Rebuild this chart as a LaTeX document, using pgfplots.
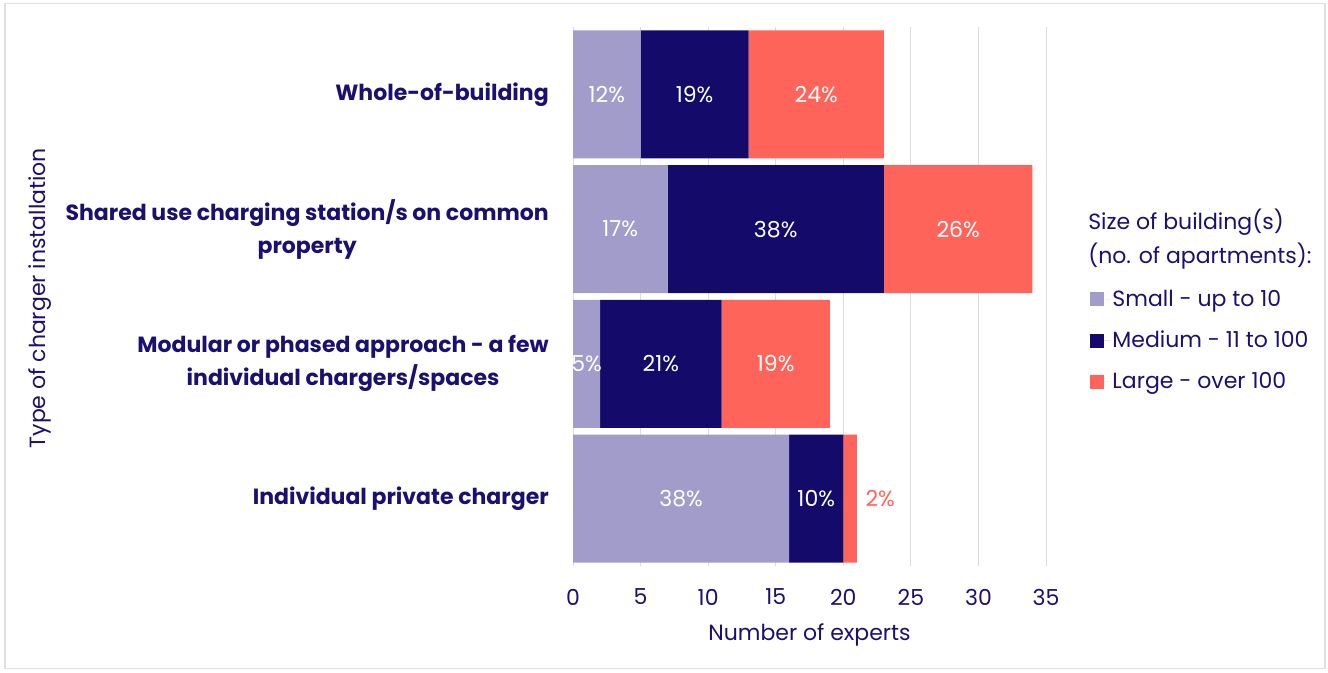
\documentclass[border=0pt]{standalone}
\usepackage{pgfplots}
\pgfplotsset{compat=1.18}
\usepackage{fontspec}
\setmainfont{Poppins}
\definecolor{navy}{HTML}{140A6A}
\definecolor{txt}{HTML}{1A1070}
\definecolor{smallc}{HTML}{A29CCA}
\definecolor{largec}{HTML}{FF645A}
\definecolor{gridc}{HTML}{DCDCDC}
\newcommand{\fs}{\fontsize{16.5}{24.75}\selectfont}
\tikzset{lab/.style={text=white, font=\fs}}
\pgfplotsset{sqleg/.style={legend image code/.code={\fill[##1] (0pt,-5.25pt) rectangle (10.5pt,5.25pt); \path (0pt,0pt) -- (15pt,0pt);}}}
\begin{document}
\begin{tikzpicture}
\path[use as bounding box] (0,0) rectangle (996pt,-504pt);
\draw[black!12, line width=1pt] (3.75pt,-2.5pt) rectangle (993.75pt,-501.5pt);
\begin{axis}[
  at={(429.75pt,-424.5pt)}, anchor=south west,
  scale only axis, width=354.75pt, height=404.25pt,
  xbar stacked, bar width=0.95,
  xmin=0, xmax=35, ymin=-0.5, ymax=3.5,
  xtick={0,5,...,35},
  ytick={0,1,2,3},
  yticklabels={Individual private charger, {Modular or phased approach - a few\\individual chargers/spaces}, {Shared use charging station/s on common\\property}, Whole-of-building},
  /pgf/number format/assume math mode=true,
  axis line style={draw=none},
  xmajorgrids, grid style={gridc, line width=0.75pt},
  major tick length=0pt,
  tick label style={font=\fs, text=txt},
  yticklabel style={align=center, font=\bfseries\fs, inner sep=0pt, xshift=-18pt},
  xticklabel style={anchor=north, inner sep=0pt, yshift=-17pt},
  xlabel={Number of experts}, ylabel={Type of charger installation},
  label style={font=\fs, text=txt},
  xlabel style={at={(axis description cs:0.5,-0.128)}, anchor=center},
  ylabel style={at={(axis description cs:-1.127,0.497)}, anchor=center},
  legend style={at={(1.092,0.517)}, anchor=north west, draw=none, fill=none, font=\fs, text=txt, row sep=13pt, inner sep=0pt},
  legend cell align=left,
]
\addplot[fill=smallc, draw=none, sqleg] coordinates {(16,0) (2,1) (7,2) (5,3)};
\addplot[fill=navy, draw=none, sqleg] coordinates {(4,0) (9,1) (16,2) (8,3)};
\addplot[fill=largec, draw=none, sqleg] coordinates {(1,0) (8,1) (11,2) (10,3)};
\legend{Small - up to 10, Medium - 11 to 100, Large - over 100}
\coordinate (a1) at (axis cs:2.5,3);
\coordinate (a2) at (axis cs:9,3);
\coordinate (a3) at (axis cs:18,3);
\coordinate (b1) at (axis cs:3.5,2);
\coordinate (b2) at (axis cs:15,2);
\coordinate (b3) at (axis cs:28.5,2);
\coordinate (c1) at (axis cs:1,1);
\coordinate (c2) at (axis cs:6.5,1);
\coordinate (c3) at (axis cs:15,1);
\coordinate (d1) at (axis cs:8,0);
\coordinate (d2) at (axis cs:18,0);
\coordinate (d3) at (axis cs:21.3,0);
\end{axis}
\node[lab] at (a1) {12\%};
\node[lab] at (a2) {19\%};
\node[lab] at (a3) {24\%};
\node[lab] at (b1) {17\%};
\node[lab] at (b2) {38\%};
\node[lab] at (b3) {26\%};
\node[lab] at (c1) {5\%};
\node[lab] at (c2) {21\%};
\node[lab] at (c3) {19\%};
\node[lab] at (d1) {38\%};
\node[lab] at (d2) {10\%};
\node[lab, text=largec, anchor=west] at (d3) {2\%};
\node[anchor=west, align=left, font=\fontsize{16.5}{25.5}\selectfont, text=txt, inner sep=0pt] at (816pt,-179.25pt) {Size of building(s)\\(no. of apartments):};
\end{tikzpicture}
\end{document}
